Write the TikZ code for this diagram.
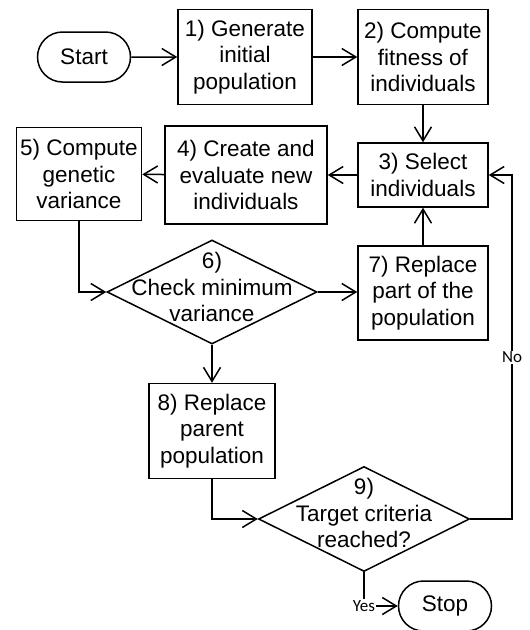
\documentclass[tikz,border=0pt]{standalone}
\usepackage{fontspec}
\setmainfont{Liberation Sans}
\newfontfamily\notefont{Carlito}
\usetikzlibrary{arrows.meta,shapes.geometric,shapes.misc}

\tikzset{
  stepbox/.style={draw, line width=1.5pt, inner sep=0pt, align=center},
  terminal/.style={draw, rounded rectangle, line width=1.5pt, inner sep=0pt,
    minimum width=93pt, minimum height=50pt},
  decision/.style={draw, diamond, line width=1.5pt, inner sep=0pt},
  flow/.style={line width=1.5pt, -{Straight Barb[length=14pt,width=17pt,line width=1.5pt]}},
  note/.style={fill=white, inner sep=1pt, font=\notefont\fontsize{17}{19}\selectfont}
}

\begin{document}
\begin{tikzpicture}[x=1pt, y=-1pt, font=\fontsize{22.5}{26.5}\selectfont]

\useasboundingbox (0,0) rectangle (530,630);

\node (start) at (84, 57) [terminal] {Start};

\node (s1) at (245, 57) [stepbox, minimum width=134pt, minimum height=95pt] {1) Generate\\initial\\population};
\node (s2) at (423, 57) [stepbox, minimum width=130pt, minimum height=95pt] {2) Compute\\fitness of\\individuals};
\node (s3) at (423, 175) [stepbox, minimum width=130pt, minimum height=64pt] {3) Select\\individuals};
\node (s4) at (246, 175) [stepbox, minimum width=162pt, minimum height=98pt] {4) Create and\\evaluate new\\individuals};
\node (s5) at (79, 174) [stepbox, minimum width=125pt, minimum height=93pt] {5) Compute\\genetic\\variance};

\node (d6) at (212, 292) [decision, minimum width=210pt, minimum height=104pt] {};
\node (t6) at (212, 287) [align=center] {6)\\Check minimum\\variance};

\node (s7) at (423, 293) [stepbox, minimum width=130pt, minimum height=94pt] {7) Replace\\part of the\\population};
\node (s8) at (212, 431) [stepbox, minimum width=126pt, minimum height=95pt] {8) Replace\\parent\\population};

\node (d9) at (364, 519) [decision, minimum width=211pt, minimum height=105pt] {};
\node (t9) at (364, 513) [align=center] {9)\\Target criteria\\reached?};

\node (stop) at (445, 606) [terminal] {Stop};

\coordinate (noturn) at (512, 519);


\draw [flow] (start) -- (s1);
\draw [flow] (s1) -- (s2);
\draw [flow] (s2) -- (s3);
\draw [flow] (s3) -- (s4);
\draw [flow] (s4) -- (s5);
\draw [flow] (s5.south) |- (d6.west);
\draw [flow] (d6.east) -- (s7.west |- d6.east);
\draw [flow] (s7) -- (s3);
\draw [flow] (d6.south) -- (s8.north);
\draw [flow] (s8.south) |- (d9.west);

\draw [flow] (d9.east) -- (noturn) -- node [note, pos=0.47] {No} (noturn |- s3.east) -- (s3.east);
\draw [flow] (d9.south) |- node [note, pos=0.5] {Yes} (stop.west);

\end{tikzpicture}
\end{document}
